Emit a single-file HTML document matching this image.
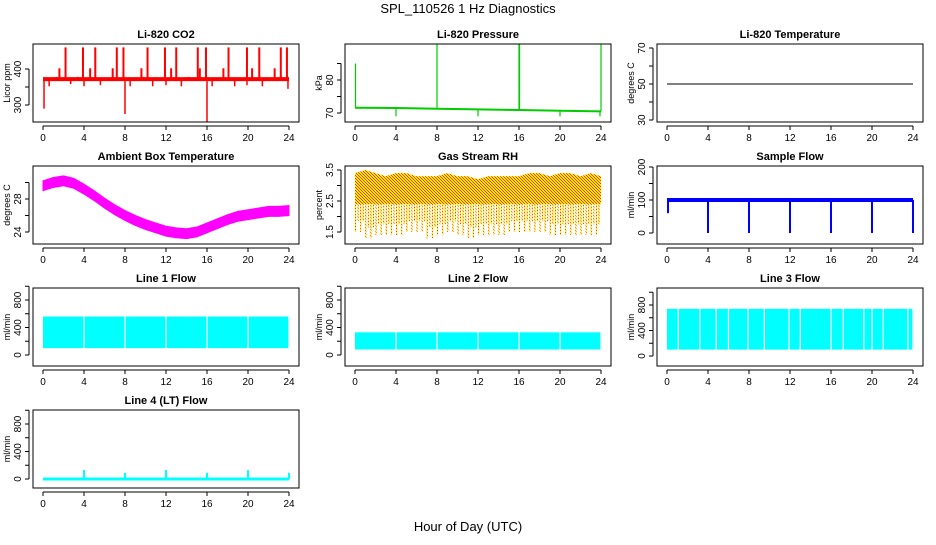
<!DOCTYPE html>
<html><head><meta charset="utf-8"><style>
body{margin:0;background:#fff}
svg text{font-family:"Liberation Sans",sans-serif;fill:#000}
</style></head><body>
<svg id="c" width="936" height="540" xmlns="http://www.w3.org/2000/svg">
<defs>
<pattern id="rhpat" width="3" height="3" patternUnits="userSpaceOnUse">
<rect width="3" height="3" fill="#ffee00"/><rect width="1" height="1" fill="#ff3300"/><rect x="1" y="1" width="1" height="1" fill="#ff3300"/><rect x="2" y="2" width="1" height="1" fill="#ff3300"/>
</pattern>
</defs>
<text x="468" y="13" font-size="13" text-anchor="middle">SPL_110526  1 Hz Diagnostics</text>
<text x="468" y="531" font-size="13" text-anchor="middle">Hour of Day (UTC)</text>
</svg>
<script>
const xTicks=[0,4,8,12,16,20,24];
// CO2
const co2Base=372;
const co2BigSpikeHours=[2.2,3.9,5.1,7.2,7.85,10.2,11.9,13.0,15.1,15.9,18.1,19.9,21.1,23.2,23.8];
const co2SmallSpikeHours=[1.6,4.6,6.8,9.6,12.5,15.3,17.6,20.4,22.6,1.3,3.4,9.7,14.2];
const co2SmallSpikeVals=[402,402,402,402,402,402,402,402,402,378,378,378,378];
const co2DipHours=[0.1,0.6,2.7,4.0,5.6,8.0,8.5,10.7,12.0,13.5,16.0,16.5,18.7,19.9,21.4,23.9];
const co2DipVals=[290,352,358,352,355,275,352,352,355,352,252,352,352,355,352,345];
// Pressure
const presHours=[0,4,8,12,16,20,24];
const presBase=[71.6,71.5,71.3,71.1,70.9,70.7,70.5];
const presSpikeHours=[0.05,8,16,16.05,24];
const presSpikeVals=[85,91,91,91,91];
const presDipHours=[4,12,20,23.9];
const presDipVals=[69,69,69,69];
// Li-820 temp
const tempHours=[0,24];
const tempVals=[50,50];
// Ambient
const ambHours=[0,1,2,3,4,5,6,7,8,9,10,11,12,13,14,15,16,17,18,19,20,21,22,23,24];
const ambVals=[29.6,30.0,30.2,29.9,29.2,28.4,27.5,26.7,26.0,25.4,24.9,24.5,24.1,23.9,23.8,24.0,24.5,25.0,25.5,25.9,26.1,26.3,26.5,26.5,26.6];
// RH
const rhHours=[0,1,2,3,4,5,6,7,8,9,10,11,12,13,14,15,16,17,18,19,20,21,22,23,24];
const rhTop=[3.4,3.5,3.4,3.3,3.4,3.4,3.3,3.3,3.3,3.4,3.3,3.3,3.2,3.3,3.3,3.3,3.3,3.4,3.4,3.3,3.4,3.4,3.3,3.4,3.3];
const rhLow=[1.5,1.3,1.4,1.4,1.4,1.5,1.5,1.3,1.4,1.5,1.4,1.3,1.4,1.4,1.4,1.5,1.5,1.5,1.5,1.4,1.4,1.4,1.4,1.4,1.6];
// Sample flow
const sfBase=100;
const sfDipHours=[0.1,4,8,12,16,20,24];
const sfDipVals=[60,0,0,0,0,0,0];
// Line flows
const l1Lo=100,l1Hi=560; const l1Gaps=[4,8,12,16,20,24];
const l2Lo=80,l2Hi=330; const l2Gaps=[4,8,12,16,20,24];
const l3Lo=100,l3Hi=740; const l3Gaps=[1.1,3.2,4.8,6.0,7.9,9.5,11.9,13.0,16.0,17.2,19.2,20.0,21.1,23.5,24];
const l4SpikeHours=[4,8,12,16,20,24];
const l4SpikeVals=[130,90,130,90,130,90];

const svg=document.getElementById('c');
const NS='http://www.w3.org/2000/svg';
function mk(tag,attrs,parent){const e=document.createElementNS(NS,tag);for(const k in attrs)e.setAttribute(k,attrs[k]);(parent||svg).appendChild(e);return e;}

function panel(o){
  const g=mk('g',{});
  
  
  const L=o.x,R=o.x+266,T=o.y,B=o.y+78;
  const sx=h=>L+10+h*(R-L-20)/24;
  const sy=v=>o.y0+(v-o.v0)*(o.y1-o.y0)/(o.v1-o.v0);
  const m=mk('g',{},g);
  
  
  const box=mk('rect',{x:L,y:T,width:266,height:78,fill:'none',stroke:'#000','stroke-width':1},g);
  
  
  const t=mk('text',{x:(L+R)/2,y:T-6,'font-size':11,'font-weight':'bold','text-anchor':'middle'},g);t.textContent=o.title;
  
  
  mk('line',{x1:sx(0),x2:sx(24),y1:B+4,y2:B+4,stroke:'#000'},g);
  xTicks.forEach(h=>{mk('line',{x1:sx(h),x2:sx(h),y1:B+4,y2:B+8,stroke:'#000'},g);
    const tx=mk('text',{x:sx(h),y:B+19,'font-size':10,'text-anchor':'middle'},g);tx.textContent=h;
    
    });
  const ax=L-4;
  mk('line',{x1:ax,x2:ax,y1:sy(o.yt[0]),y2:sy(o.yt[o.yt.length-1]),stroke:'#000'},g);
  o.yt.forEach(v=>{mk('line',{x1:ax-4,x2:ax,y1:sy(v),y2:sy(v),stroke:'#000'},g);
    if(o.yl.includes(v)){const lx=L-12;const tx=mk('text',{x:lx,y:sy(v),'font-size':10,'text-anchor':'middle',transform:`rotate(-90 ${lx} ${sy(v)})`},g);tx.textContent=v;
    
    }});
  const yx=L-23;
  const yl=mk('text',{x:yx,y:(T+B)/2,'font-size':9,'text-anchor':'middle',transform:`rotate(-90 ${yx} ${(T+B)/2})`},g);yl.textContent=o.ylab;
  
  
  return {sx,sy,g:m};
}
function vline(p,h,v0,v1,col,w){const l=mk('line',{x1:p.sx(h),x2:p.sx(h),y1:p.sy(v0),y2:p.sy(v1),stroke:col,'stroke-width':w||1.5},p.g);
  
  }
function band(p,lo,hi,gaps,col){
  const edges=[0].concat(gaps);
  for(let i=0;i<edges.length-1;i++){
    const a=edges[i]+(i?0.06:0),b=edges[i+1]-0.06;
    const r=mk('rect',{x:p.sx(a),y:p.sy(hi),width:p.sx(b)-p.sx(a),height:p.sy(lo)-p.sy(hi),fill:col},p.g);
    
    
  }
}

// CO2
let p=panel({name:'co2-panel',title:'Li-820 CO2',x:33,y:44,ylab:'Licor ppm',v0:300,v1:400,y0:105,y1:69,yt:[300,350,400],yl:[300,400]});
co2BigSpikeHours.forEach(h=>vline(p,h,co2Base,460,'#ff0000',2));
co2SmallSpikeHours.forEach((h,i)=>vline(p,h,co2Base,co2SmallSpikeVals[i],'#ff0000',2));
co2DipHours.forEach((h,i)=>vline(p,h,co2Base,co2DipVals[i],'#ff0000',1.5));
{const l=mk('line',{x1:p.sx(0),x2:p.sx(24),y1:p.sy(co2Base),y2:p.sy(co2Base),stroke:'#ff0000','stroke-width':4},p.g);

}
// Pressure
p=panel({name:'pressure-panel',title:'Li-820 Pressure',x:345,y:44,ylab:'kPa',v0:70,v1:80,y0:113,y1:80,yt:[70,75,80,85],yl:[70,80]});
presSpikeHours.forEach((h,i)=>vline(p,h,presBase[Math.round(h/4)],presSpikeVals[i],'#00cc00',1.2));
presDipHours.forEach((h,i)=>vline(p,h,presBase[Math.round(h/4)],presDipVals[i],'#00cc00',1.2));
{const l=mk('polyline',{points:presHours.map((h,i)=>p.sx(h)+','+p.sy(presBase[i])).join(' '),fill:'none',stroke:'#00cc00','stroke-width':2},p.g);

}
// Li temp
p=panel({name:'li820-temperature-panel',title:'Li-820 Temperature',x:657,y:44,ylab:'degrees C',v0:30,v1:70,y0:120,y1:48,yt:[30,40,50,60,70],yl:[30,50,70]});
{const l=mk('polyline',{points:tempHours.map((h,i)=>p.sx(h)+','+p.sy(tempVals[i])).join(' '),fill:'none',stroke:'#000','stroke-width':1},p.g);

}
// Ambient
p=panel({name:'ambient-temperature-panel',title:'Ambient Box Temperature',x:33,y:166,ylab:'degrees C',v0:24,v1:28,y0:232,y1:199,yt:[24,26,28,30],yl:[24,28]});
{const pts=ambHours.map((h,i)=>p.sx(h)+','+p.sy(ambVals[i]+0.6)).concat(ambHours.slice().reverse().map((h,j)=>{const i=ambHours.length-1-j;return p.sx(h)+','+p.sy(ambVals[i]-0.6);}));
const l=mk('polygon',{points:pts.join(' '),fill:'#ff00ff',stroke:'#ff00ff','stroke-width':1},p.g);

}
// RH
p=panel({name:'rh-panel',title:'Gas Stream RH',x:345,y:166,ylab:'percent',v0:1.5,v1:3.5,y0:232,y1:170,yt:[1.5,2,2.5,3,3.5],yl:[1.5,2.5,3.5]});
{const bot=2.4;
const pts=rhHours.map((h,i)=>p.sx(h)+','+p.sy(rhTop[i])).concat([p.sx(24)+','+p.sy(bot),p.sx(0)+','+p.sy(bot)]);
const l=mk('polygon',{points:pts.join(' '),fill:'url(#rhpat)'},p.g);


for(let i=0;i<rhHours.length-1;i++){for(let k=0;k<4;k++){const h=rhHours[i]+k/4;const lo=rhLow[i]+(k%2)*0.35;
  const r=mk('rect',{x:p.sx(h),y:p.sy(bot),width:p.sx(h+1/4)-p.sx(h)-1.5,height:p.sy(lo)-p.sy(bot),fill:'url(#rhpat)'},p.g);
  
  }}}
// Sample flow
p=panel({name:'sample-flow-panel',title:'Sample Flow',x:657,y:166,ylab:'ml/min',v0:0,v1:200,y0:233,y1:167,yt:[0,50,100,150,200],yl:[0,100,200]});
sfDipHours.forEach((h,i)=>vline(p,h,sfBase,sfDipVals[i],'#0000ff',2));
{const l=mk('line',{x1:p.sx(0),x2:p.sx(24),y1:p.sy(sfBase),y2:p.sy(sfBase),stroke:'#0000ff','stroke-width':4},p.g);

}
// Lines
const fl={v0:0,v1:800,yt:[0,200,400,600,800,1000],yl:[0,400,800],ylab:'ml/min'};
p=panel(Object.assign({name:'line1-flow-panel',title:'Line 1 Flow',x:33,y:288,y0:355,y1:300},fl));
band(p,l1Lo,l1Hi,l1Gaps,'#00ffff');
p=panel(Object.assign({name:'line2-flow-panel',title:'Line 2 Flow',x:345,y:288,y0:355,y1:300},fl));
band(p,l2Lo,l2Hi,l2Gaps,'#00ffff');
p=panel(Object.assign({name:'line3-flow-panel',title:'Line 3 Flow',x:657,y:288,y0:356,y1:305},fl));
band(p,l3Lo,l3Hi,l3Gaps,'#00ffff');
p=panel(Object.assign({name:'line4-flow-panel',title:'Line 4 (LT) Flow',x:33,y:410,y0:479,y1:424},fl));
l4SpikeHours.forEach((h,i)=>vline(p,h,0,l4SpikeVals[i],'#00ffff',2));
{const l=mk('line',{x1:p.sx(0),x2:p.sx(24),y1:p.sy(0),y2:p.sy(0),stroke:'#00ffff','stroke-width':3},p.g);

}
</script>
</body></html>
